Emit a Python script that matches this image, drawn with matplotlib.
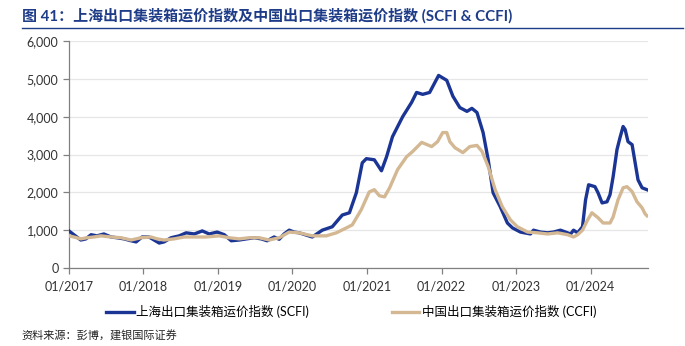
import numpy as np
import pandas as pd
import matplotlib
matplotlib.use("Agg")
import matplotlib.pyplot as plt
import matplotlib.dates as mdates
from matplotlib.ticker import FuncFormatter

plt.rcParams['font.family'] = ['Lato', 'Noto Sans CJK SC', 'DejaVu Sans']

# SCFI
scfi_dates = [
    "2017-01-01", "2017-01-25", "2017-02-28", "2017-03-25", "2017-04-19", "2017-05-18",
    "2017-06-21", "2017-07-26", "2017-08-24", "2017-09-28", "2017-11-01", "2017-11-26",
    "2017-12-25", "2018-01-28", "2018-02-22", "2018-03-19", "2018-04-12", "2018-05-16",
    "2018-06-25", "2018-07-29", "2018-09-07", "2018-10-16", "2018-11-19", "2018-12-28",
    "2019-02-01", "2019-03-07", "2019-04-15", "2019-05-20", "2019-06-28", "2019-08-01",
    "2019-08-30", "2019-10-03", "2019-10-28", "2019-11-21", "2019-12-16", "2020-01-09",
    "2020-02-03", "2020-04-07", "2020-05-26", "2020-07-14", "2020-09-01", "2020-10-06",
    "2020-11-09", "2020-12-08", "2020-12-28", "2021-02-05", "2021-03-12", "2021-04-06",
    "2021-05-05", "2021-06-24", "2021-08-07", "2021-08-31", "2021-09-30", "2021-11-03",
    "2021-12-17", "2022-01-26", "2022-02-25", "2022-03-31", "2022-05-05", "2022-05-29",
    "2022-06-23", "2022-07-23", "2022-08-17", "2022-09-10", "2022-10-15", "2022-11-19",
    "2022-12-14", "2023-01-22", "2023-03-12", "2023-03-27", "2023-04-30", "2023-06-04",
    "2023-07-03", "2023-08-06", "2023-09-10", "2023-09-25", "2023-10-09", "2023-10-29",
    "2023-11-22", "2023-12-07", "2023-12-22", "2024-01-22", "2024-02-06", "2024-02-26",
    "2024-03-21", "2024-04-05", "2024-04-20", "2024-05-09", "2024-05-24", "2024-06-08",
    "2024-06-18", "2024-07-02", "2024-07-22", "2024-08-06", "2024-08-20", "2024-09-09",
    "2024-10-03",
]
scfi_values = [
    980, 880, 740, 770, 880, 850,
    900, 820, 800, 770, 720, 690,
    820, 820, 740, 660, 690, 800,
    850, 930, 900, 980, 900, 950,
    880, 720, 740, 770, 800, 770,
    720, 820, 760, 900, 1000, 950,
    930, 820, 1000, 1090, 1400, 1460,
    1990, 2780, 2890, 2860, 2570, 2940,
    3470, 4000, 4380, 4640, 4590, 4640,
    5090, 4960, 4540, 4240, 4140, 4220,
    4110, 3580, 2860, 1990, 1620, 1190,
    1060, 950, 900, 1000, 950, 930,
    950, 1000, 930, 900, 1000, 930,
    1090, 1800, 2200, 2150, 1990, 1720,
    1750, 1940, 2410, 3130, 3450, 3740,
    3660, 3340, 3260, 2780, 2330, 2120,
    2070,
]

# CCFI
ccfi_dates = [
    "2017-01-01", "2017-01-25", "2017-02-28", "2017-03-30", "2017-05-03", "2017-06-07",
    "2017-07-26", "2017-09-13", "2017-11-01", "2017-12-20", "2018-02-07", "2018-03-09",
    "2018-04-12", "2018-05-31", "2018-07-19", "2018-08-28", "2018-11-04", "2019-01-06",
    "2019-02-25", "2019-04-15", "2019-06-03", "2019-07-22", "2019-09-09", "2019-10-28",
    "2019-12-16", "2020-02-03", "2020-04-07", "2020-06-14", "2020-08-03", "2020-09-21",
    "2020-10-20", "2020-12-03", "2021-01-11", "2021-02-05", "2021-03-02", "2021-03-27",
    "2021-04-21", "2021-05-30", "2021-07-13", "2021-08-12", "2021-09-25", "2021-11-13",
    "2021-12-12", "2022-01-06", "2022-01-26", "2022-02-10", "2022-03-07", "2022-04-15",
    "2022-05-19", "2022-06-23", "2022-07-18", "2022-08-17", "2022-09-20", "2022-10-25",
    "2022-12-04", "2023-01-07", "2023-02-26", "2023-04-15", "2023-06-04", "2023-07-23",
    "2023-09-10", "2023-10-09", "2023-10-29", "2023-11-22", "2023-12-17", "2024-01-07",
    "2024-02-06", "2024-03-02", "2024-04-05", "2024-04-20", "2024-05-14", "2024-06-08",
    "2024-06-27", "2024-07-22", "2024-08-15", "2024-09-09", "2024-09-24", "2024-10-03",
]
ccfi_values = [
    850, 820, 770, 800, 820, 850,
    820, 800, 740, 800, 820, 770,
    740, 770, 820, 820, 820, 850,
    800, 770, 800, 800, 740, 800,
    950, 930, 850, 850, 930, 1060,
    1140, 1540, 2010, 2070, 1910, 1880,
    2120, 2600, 2940, 3080, 3320, 3210,
    3340, 3580, 3580, 3340, 3180, 3050,
    3210, 3240, 3080, 2680, 2070, 1620,
    1270, 1090, 950, 930, 900, 930,
    880, 820, 880, 1000, 1270, 1460,
    1330, 1190, 1190, 1350, 1800, 2120,
    2150, 2020, 1750, 1590, 1430, 1380,
]

scfi_label = "上海出口集装箱运价指数 (SCFI)"
ccfi_label = "中国出口集装箱运价指数 (CCFI)"
title = "图 41：上海出口集装箱运价指数及中国出口集装箱运价指数 (SCFI & CCFI)"
source = "资料来源：彭博，建银国际证券"

navy = "#1B3595"
tan = "#D3B893"

fig = plt.figure(figsize=(6.85, 3.46), dpi=100)
ax = fig.add_axes([0.1007, 0.2254, 0.8453, 0.6561])

ax.plot(pd.to_datetime(scfi_dates), scfi_values, color=navy, lw=2.4,
        label=scfi_label, zorder=3, solid_joinstyle="round")
ax.plot(pd.to_datetime(ccfi_dates), ccfi_values, color=tan, lw=2.4,
        label=ccfi_label, zorder=4, solid_joinstyle="round")

ax.set_ylim(0, 6000)
ax.set_yticks(np.arange(0, 6001, 1000))
ax.yaxis.set_major_formatter(FuncFormatter(lambda v, p: f"{int(v):,}"))
ax.set_xlim(pd.Timestamp("2017-01-01"), pd.Timestamp("2024-10-08"))
ax.xaxis.set_major_locator(mdates.YearLocator())
ax.xaxis.set_major_formatter(mdates.DateFormatter("%m/%Y"))

ax.grid(axis="y", color="#E6E6E6", lw=0.9)
ax.set_axisbelow(True)
for s in ["top", "right"]:
    ax.spines[s].set_visible(False)
for s in ["left", "bottom"]:
    ax.spines[s].set_color("#808080")
    ax.spines[s].set_linewidth(0.9)
ax.tick_params(axis="both", colors="#808080", labelcolor="#333333",
               labelsize=9, length=4, width=0.9)
ax.tick_params(axis="x", pad=5)

fig.legend(loc="center", bbox_to_anchor=(0.513, 0.1), ncol=2, frameon=False,
           fontsize=9, handlelength=2.2, handletextpad=0.2, columnspacing=6.6)

fig.text(0.032, 0.955, title, fontsize=10.8, fontweight="bold", color="#1F3C88",
         va="center", ha="left")
fig.add_artist(plt.Line2D([0.032, 0.997], [0.918, 0.918], color="#1F3C88", lw=1))
fig.text(0.032, 0.028, source, fontsize=8, style="italic", color="#222222",
         va="center", ha="left")

fig.savefig("out.png", dpi=100)
